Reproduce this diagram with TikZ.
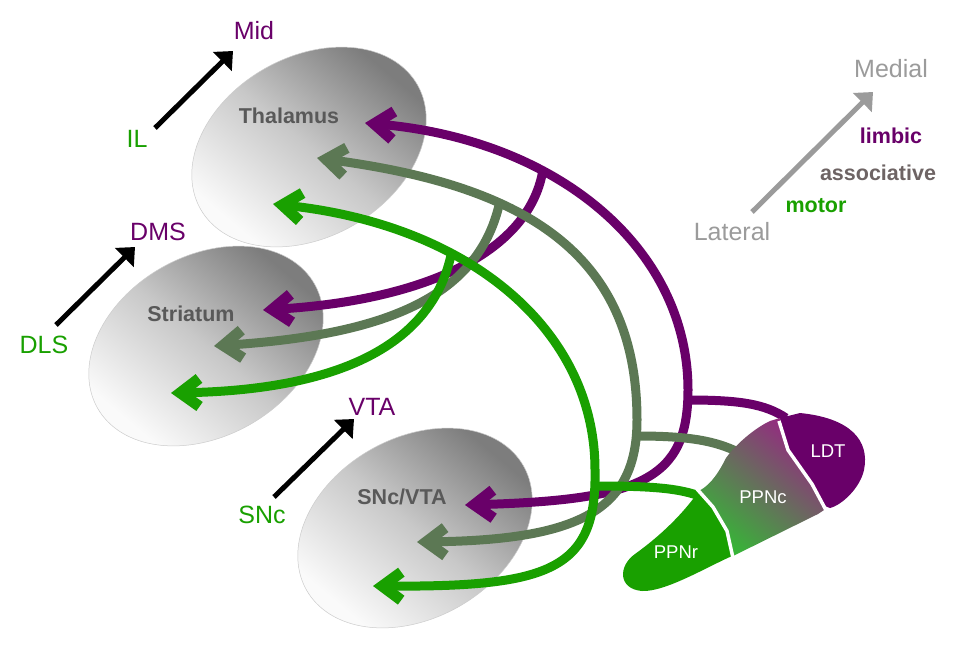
\documentclass[tikz,border=0pt]{standalone}
\usepackage{fontspec}
\setmainfont{Liberation Sans}
\usetikzlibrary{arrows.meta}
\definecolor{limbic}{RGB}{105,0,105}
\definecolor{assoc}{RGB}{92,120,84}
\definecolor{motor}{RGB}{25,160,0}
\definecolor{assoctext}{RGB}{110,100,100}
\definecolor{axisgray}{RGB}{155,155,155}
\definecolor{blobtext}{RGB}{89,89,89}
\definecolor{blobdark}{RGB}{125,125,125}
\definecolor{blobmid}{RGB}{200,200,200}
\definecolor{bloblight}{RGB}{250,250,250}
\definecolor{ppnpurple}{RGB}{150,40,130}
\definecolor{ppngreen}{RGB}{55,180,55}
\begin{document}
\begin{tikzpicture}[x=1pt,y=-1pt,
  >={Straight Barb[sharp,length=19pt,width=28pt,line width=11pt]},
  limb/.style={draw=limbic,line width=9pt},
  asso/.style={draw=assoc,line width=9pt},
  moto/.style={draw=motor,line width=9pt},
  blob/.style={top color=blobdark,bottom color=bloblight,middle color=blobmid,shading angle=-40,draw=black!20,line width=0.5pt},
  reg/.style={font=\fontsize{25}{28}\selectfont,anchor=base,inner sep=0pt},
  bld/.style={font=\bfseries\fontsize{21.5}{24}\selectfont,anchor=base,inner sep=0pt},
  ppn/.style={font=\fontsize{18.5}{20}\selectfont,text=white,anchor=base,inner sep=0pt},
  dirarrow/.style={line width=5pt,-{Triangle[length=15pt,width=26pt]}},
  sep/.style={draw=white,line width=3.5pt}
]
\useasboundingbox[fill=white] (0,0) rectangle (956,654);

% blobs
\foreach \cx/\cy in {309/147,206/346,415/528}{
  \shadedraw[blob] plot[domain=0:355,samples=72,smooth cycle]
    ({\cx+108.25*cos(\x)+45*sin(\x)},{\cy-62.5*cos(\x)+77.94*sin(\x)});
}
\node[bld,text=blobtext] (thal) at (289,123) {Thalamus};
\node[bld,text=blobtext] (stri) at (191,321) {Striatum};
\node[bld,text=blobtext] (sncvta) at (402,504) {SNc/VTA};

% tips
\coordinate (tTL) at (365,123);
\coordinate (tTA) at (317,158);
\coordinate (tTM) at (273,204);
\coordinate (tSL) at (263,310);
\coordinate (tSA) at (214,346);
\coordinate (tSM) at (171,393);
\coordinate (tVL) at (465,505);
\coordinate (tVA) at (417,542);
\coordinate (tVM) at (373,586);
\coordinate (hL) at (688,400);
\coordinate (hA) at (637,436);
\coordinate (hM) at (596,486);
\coordinate (eL) at (786,418);
\coordinate (eA) at (738,452);
\coordinate (eM) at (702,497);

% limbic
\draw[limb,<->] (tTL) .. controls (560,140) and (688,250) .. (688,390) coordinate[pos=0.35] (jL)
   .. controls (688,480) and (640,500) .. (tVL);
\draw[limb,->] (jL) .. controls (528,250) and (430,300) .. (tSL);
\draw[limb] (hL) .. controls (740,400) and (765,404) .. (eL);

% associative
\draw[asso,<->] (tTA) .. controls (520,185) and (637,250) .. (637,420) coordinate[pos=0.355] (jA)
   .. controls (637,510) and (580,540) .. (tVA);
\draw[asso,->] (jA) .. controls (477,300) and (380,335) .. (tSA);
\draw[asso] (hA) .. controls (690,436) and (715,441) .. (eA);

% motor
\draw[moto,<->] (tTM) .. controls (470,225) and (595,330) .. (595,470) coordinate[pos=0.35] (jM)
   .. controls (597,570) and (550,587) .. (tVM);
\draw[moto,->] (jM) .. controls (430,350) and (330,390) .. (tSM);
\draw[moto] (hM) .. controls (650,486) and (680,488) .. (eM);

% PPN complex
\fill[limbic] (780,418) -- (800,413) .. controls (850,418) and (870,440) .. (864,470)
   .. controls (860,488) and (842,505) .. (830,508) -- (825,506) -- (812,484) -- (788,450) -- cycle;
\shade[top color=ppnpurple,bottom color=ppngreen,shading angle=-40]
   (780,418) -- (788,450) -- (812,484) -- (824,510) -- (818,514) -- (733,556) -- (727,531) -- (713,507) -- (699,491)
   .. controls (712,484) and (720,470) .. (726,458) .. controls (736,444) and (755,428) .. (770,421) -- cycle;
\fill[motor] (699,491) -- (713,507) -- (727,531) -- (732,556) .. controls (705,568) and (665,592) .. (642,591)
   .. controls (618,589) and (618,566) .. (635,554) .. controls (660,536) and (682,515) .. (699,491) -- cycle;
\draw[sep] (779,421) -- (788,450) -- (812,484) -- (827,512);
\draw[sep] (697,489) -- (713,507) -- (727,531) -- (733,558);
\node[ppn] (ldt) at (828,457) {LDT};
\node[ppn] (ppnc) at (763,503) {PPNc};
\node[ppn] (ppnr) at (676,558) {PPNr};

% direction arrows
\node[reg,text=limbic] (mid) at (254,39) {Mid};
\node[reg,text=motor] (il) at (137,147) {IL};
\node[reg,text=limbic] (dms) at (158,240) {DMS};
\node[reg,text=motor] (dls) at (44,353) {DLS};
\node[reg,text=limbic] (vta) at (372,415) {VTA};
\node[reg,text=motor] (snc) at (262,523) {SNc};
\coordinate (aIL) at (155,128);
\coordinate (aMid) at (233,51);
\coordinate (aDLS) at (56,325);
\coordinate (aDMS) at (135,247);
\coordinate (aSNc) at (274,497);
\coordinate (aVTA) at (354,419);
\draw[dirarrow] (aIL) -- (aMid);
\draw[dirarrow] (aDLS) -- (aDMS);
\draw[dirarrow] (aSNc) -- (aVTA);

% legend
\node[reg,text=axisgray] (medial) at (891,77) {Medial};
\node[reg,text=axisgray] (lateral) at (732,240) {Lateral};
\coordinate (aLat) at (752,212);
\coordinate (aMed) at (873,92);
\draw[dirarrow,draw=axisgray,fill=axisgray] (aLat) -- (aMed);
\node[bld,text=limbic] (limb) at (891,143) {limbic};
\node[bld,text=assoctext] (asso) at (878,180) {associative};
\node[bld,text=motor] (moto) at (816,212) {motor};
\end{tikzpicture}
\end{document}
